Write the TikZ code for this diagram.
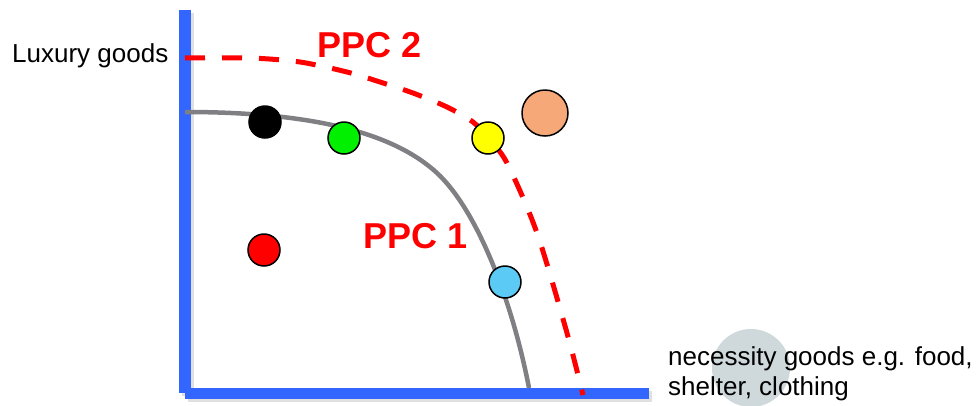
\documentclass[tikz,border=0pt]{standalone}
\usepackage{fontspec}
\setmainfont{Liberation Sans}
\begin{document}
\begin{tikzpicture}[x=1pt,y=-1pt,
  axisbar/.style={fill=axisblue,draw=none},
  dot/.style={circle,draw=black,line width=1.5pt,inner sep=0pt,minimum size=32pt},
  lbl/.style={font=\fontsize{26}{30}\selectfont,inner sep=0pt,text=black},
  ppclbl/.style={font=\fontsize{36}{40}\selectfont\bfseries,inner sep=0pt,text=ppcred},
  ppcone/.style={draw=curvegray,line width=4.5pt},
  ppctwo/.style={draw=ppcred,line width=5pt,dash pattern=on 20pt off 17pt}]
\definecolor{axisblue}{HTML}{3366FF}
\definecolor{ppcred}{HTML}{FF0000}
\definecolor{curvegray}{HTML}{7F7F84}
\definecolor{bubble}{HTML}{CFD8DB}
\definecolor{dotgreen}{HTML}{00F000}
\definecolor{dotyellow}{HTML}{FFFF00}
\definecolor{dotblue}{HTML}{5BCBF5}
\definecolor{dotorange}{HTML}{F7A878}
\useasboundingbox (0,0) rectangle (978,405);
% bubble behind the text
\fill[bubble] (751,368) circle (39);
% axes shadows
\fill[black!12] (182,13) rectangle (194,396);
\fill[black!12] (188,391) rectangle (652,402);
% axes
\fill[axisbar] (179,10) rectangle (191,393);
\fill[axisbar] (185,388) rectangle (649,399);
% PPC 1
\coordinate (p1a) at (185,112);
\coordinate (p1b) at (437,173);
\coordinate (p1c) at (529,388);
\draw[ppcone] (p1a) .. controls (330,112) and (400,139) .. (p1b)
  .. controls (477,210) and (512,300) .. (p1c);
% PPC 2
\draw[ppctwo] plot[smooth,tension=0.5] coordinates {(185,58) (250,58) (300,62) (347,72) (380,82) (413,93) (447,107) (473,122) (488,138) (507,163) (537,233) (567,333) (583,395)};
% labels
\node[lbl,anchor=base west] (lux) at (12,62) {Luxury goods};
\node[lbl,anchor=base west] (nec1) at (668,365) {necessity goods e.g. food,};
\node[lbl,anchor=base west] (nec2) at (668,395) {shelter, clothing};
\node[ppclbl,anchor=base west] (ppc2) at (317,57) {PPC 2};
\node[ppclbl,anchor=base west] (ppc1) at (363,248) {PPC 1};
% dots
\node[dot,fill=black] (dblack) at (265,122) {};
\node[dot,fill=dotgreen] (dgreen) at (344,138) {};
\node[dot,fill=dotyellow] (dyellow) at (488,138) {};
\node[dot,fill=dotorange,minimum size=46pt] (dorange) at (545,113) {};
\node[dot,fill=red] (dred) at (264,250) {};
\node[dot,fill=dotblue] (dblue) at (505,282) {};
\end{tikzpicture}
\end{document}
